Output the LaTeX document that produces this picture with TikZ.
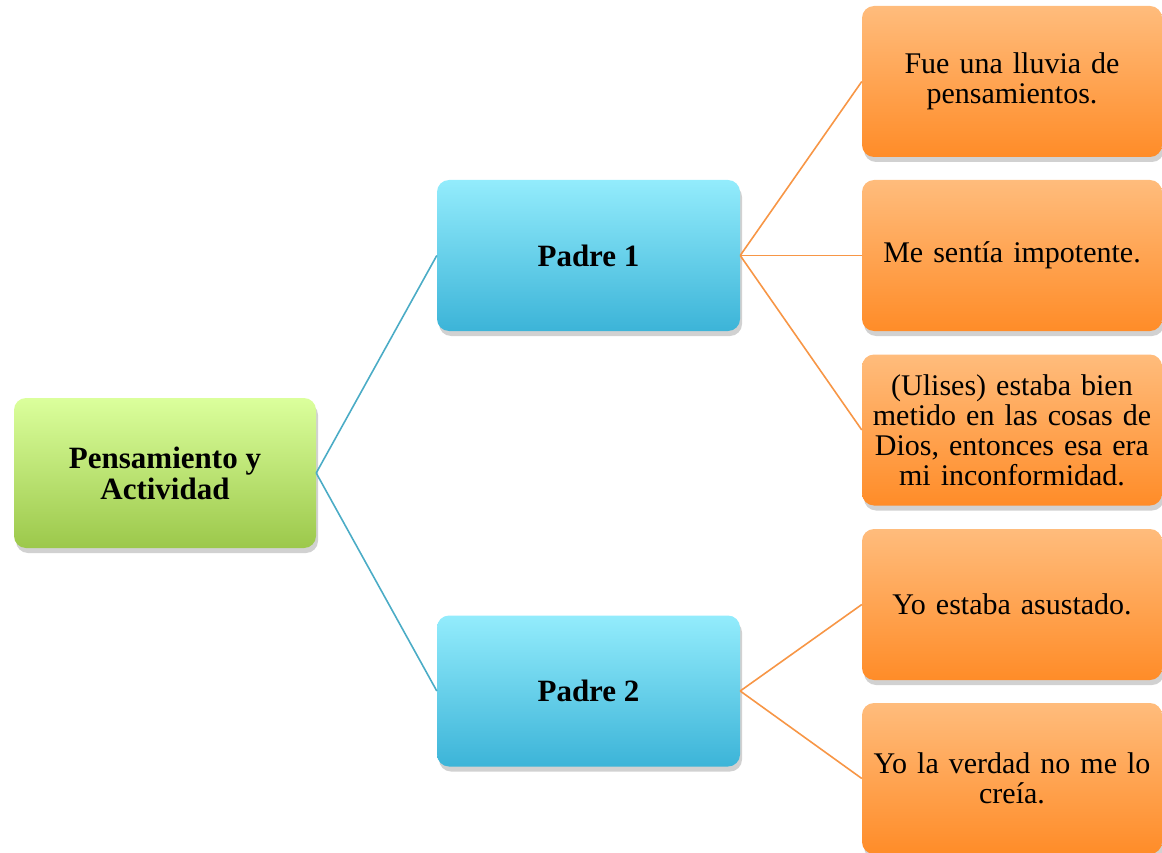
\documentclass[tikz,border=0pt]{standalone}
\usepackage{fontspec}
\setmainfont{Liberation Serif}
\usetikzlibrary{shadows}
\definecolor{greentop}{HTML}{DBFF9C}
\definecolor{greenbot}{HTML}{9CC84B}
\definecolor{bluetop}{HTML}{93ECFC}
\definecolor{bluebot}{HTML}{3CB4D8}
\definecolor{orangetop}{HTML}{FFBC7C}
\definecolor{orangebot}{HTML}{FF8C28}
\definecolor{blueline}{HTML}{4BACC6}
\definecolor{orangeline}{HTML}{F79646}
\begin{document}
\begin{tikzpicture}[x=1pt,y=-1pt]
		\tikzstyle{card}=[rectangle,rounded corners=12pt,inner sep=4pt,align=center,
			drop shadow={shadow xshift=2pt,shadow yshift=-5pt,opacity=0.3,fill=black!60}]
		\tikzstyle{root}=[card,minimum width=302pt,minimum height=150pt,top color=greentop,bottom color=greenbot,
			font=\fontsize{31}{31}\selectfont\bfseries]
		\tikzstyle{parent}=[card,minimum width=303pt,minimum height=151pt,top color=bluetop,bottom color=bluebot,
			font=\fontsize{31}{31}\selectfont\bfseries]
		\tikzstyle{quote}=[card,minimum width=300pt,minimum height=151pt,text width=292pt,top color=orangetop,bottom color=orangebot,
			font=\fontsize{30}{30}\selectfont]
		\tikzstyle{bluedge}=[draw,line width=1.6pt,blueline]
		\tikzstyle{orangedge}=[draw,line width=1.6pt,orangeline]
		\useasboundingbox (0,0) rectangle (1162,853);
			\begin{scope}
				\node [root] (pa) at (165,473) {Pensamiento y\\Actividad};
				\node [parent] (p1) at (588.5,255.5) {Padre 1};
				\node [parent] (p2) at (588.5,691) {Padre 2};
				\node [quote] (q1) at (1012,81.5) {Fue una lluvia de\\pensamientos.};
				\node [quote] (q2) at (1012,255.5) {Me sentía impotente.};
				\node [quote] (q3) at (1012,430) {(Ulises) estaba bien\\metido en las cosas de\\Dios, entonces esa era\\mi inconformidad.};
				\node [quote] (q4) at (1012,604.5) {Yo estaba asustado.};
				\node [quote] (q5) at (1012,778.5) {Yo la verdad no me lo\\creía.};
				\path[bluedge] (pa.east) -- (p1.west);
				\path[bluedge] (pa.east) -- (p2.west);
				\path[orangedge] (p1.east) -- (q1.west);
				\path[orangedge] (p1.east) -- (q2.west);
				\path[orangedge] (p1.east) -- (q3.west);
				\path[orangedge] (p2.east) -- (q4.west);
				\path[orangedge] (p2.east) -- (q5.west);
			\end{scope}
\end{tikzpicture}
\end{document}
